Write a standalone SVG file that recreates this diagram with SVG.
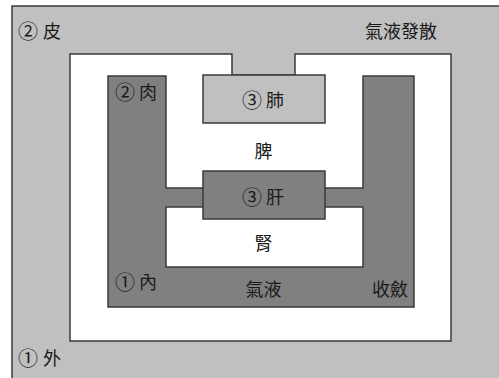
<svg xmlns="http://www.w3.org/2000/svg" width="499" height="378" viewBox="0 0 499 378">
<style>
text{font-family:"Noto Sans CJK TC","Noto Sans CJK SC",sans-serif;font-size:18px;fill:#1a1a1a;dominant-baseline:central}
.n{font-size:20px}
.c{text-anchor:middle}
.e{text-anchor:end}
.ln{stroke:#3a3a3a;stroke-width:1.5}
</style>
<rect width="499" height="378" fill="#ffffff"/>
<g id="outer">
<rect class="ln" x="12" y="6" width="520" height="400" fill="#c0c0c0"/>
<text y="30"><tspan class="n" x="18">②</tspan><tspan x="43">皮</tspan></text>
<text class="e" x="437" y="30">氣液發散</text>
<text y="357"><tspan class="n" x="18">①</tspan><tspan x="43">外</tspan></text>
</g>
<g id="white-frame">
<path class="ln" d="M70,54 H232 V75 H295 V54 H451 V341 H70 Z" fill="#ffffff"/>
</g>
<g id="flesh">
<path class="ln" d="M108,76 H166 V188 H363 V76 H414 V307 H108 Z" fill="#808080"/>
<text y="91"><tspan class="n" x="115">②</tspan><tspan x="139">肉</tspan></text>
<text y="281"><tspan class="n" x="115">①</tspan><tspan x="139">內</tspan></text>
<text class="c" x="263.5" y="287.5">氣液</text>
<text class="e" x="408" y="287.5">收斂</text>
</g>
<g id="inner">
<rect class="ln" x="166" y="207" width="197" height="60" fill="#ffffff"/>
<text class="c" x="263.5" y="242">腎</text>
</g>
<g id="spleen">
<text class="c" x="263.5" y="149.5">脾</text>
</g>
<g id="lung">
<rect class="ln" x="203" y="75" width="122" height="48" fill="#c0c0c0"/>
<text y="99"><tspan class="n" x="242">③</tspan><tspan x="266">肺</tspan></text>
</g>
<g id="liver">
<rect class="ln" x="203" y="171" width="122" height="48" fill="#808080"/>
<text y="196"><tspan class="n" x="242">③</tspan><tspan x="266">肝</tspan></text>
</g>
</svg>
